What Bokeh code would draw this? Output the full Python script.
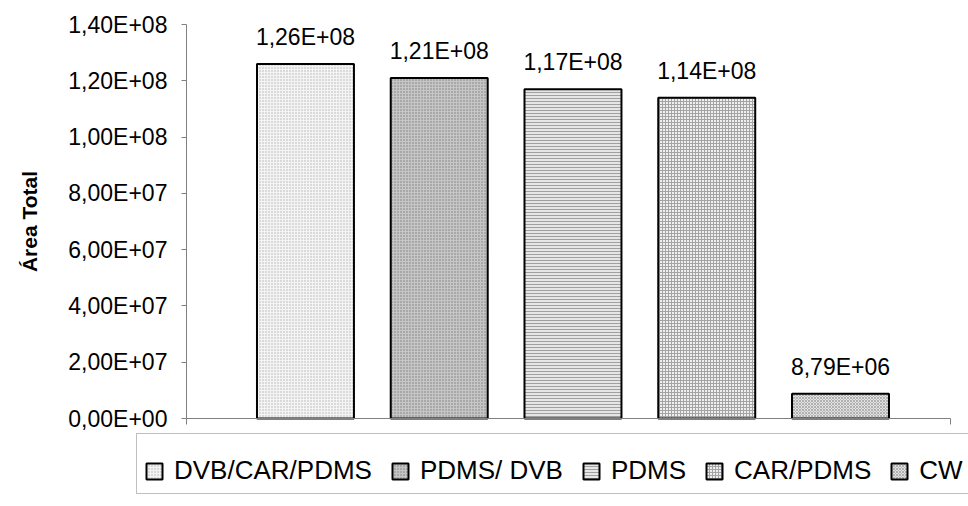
from bokeh.plotting import figure
from bokeh.models import (ColumnDataSource, Range1d, FixedTicker,
                          LabelSet, Legend, LegendItem)
from bokeh.embed import file_html
from bokeh.resources import INLINE
from bokeh.core.properties import value

# ---- data ----
series = ["DVB/CAR/PDMS", "PDMS/ DVB", "PDMS", "CAR/PDMS", "CW"]
areas = [1.26e8, 1.21e8, 1.17e8, 1.14e8, 8.79e6]
y_ticks = [0, 2e7, 4e7, 6e7, 8e7, 1e8, 1.2e8, 1.4e8]
y_title = "Área Total"

# ---- styles ----
fills = ["#f4f4f4", "#c6c6c6", "#e6e6e6", "#efefef", "#e2e2e2"]
hatches = ["dot", "dot", "horizontal_line", "cross", "diagonal_cross"]
hatch_colors = ["#b4b4b4", "#7c7c7c", "#a0a0a0", "#a4a4a4", "#b0b0b0"]
FONT = "Liberation Sans"


def excel_sci(v):
    return f"{v:.2E}".replace(".", ",")


# one slot per series (single-category clustered column chart)
slot = list(range(len(series)))

src = ColumnDataSource(dict(
    slot=slot, series=series, area=areas, label=[excel_sci(v) for v in areas],
    fill=fills, hatch=hatches, hcolor=hatch_colors,
))

# frame covers the whole canvas; axes are pinned inside it
p = figure(
    width=968, height=506,
    x_range=Range1d(-2.280, 4.957), y_range=Range1d(-3.1269e7, 1.48528e8),
    output_backend="svg", toolbar_location=None,
    min_border_left=0, min_border_right=0, min_border_top=0, min_border_bottom=0,
)

r = p.vbar(x="slot", top="area", width=0.725, source=src,
           fill_color="fill", hatch_pattern="hatch", hatch_color="hcolor",
           hatch_scale=3, hatch_weight=1, line_color="black", line_width=2)

labels = LabelSet(x="slot", y="area", text="label", source=src,
                  text_align="center", text_baseline="alphabetic", y_offset=19,
                  text_font=value(FONT), text_font_size="23px", text_color="black")
p.add_layout(labels)

# value axis
Y_AXIS_AT = -0.8897
X_AXIS_END = 4.822
p.yaxis.fixed_location = Y_AXIS_AT
p.yaxis.bounds = (0, 1.4e8)
p.yaxis.ticker = FixedTicker(ticks=y_ticks)
p.yaxis.major_label_overrides = {t: excel_sci(t) for t in y_ticks}
p.yaxis.axis_line_color = "#808080"
p.yaxis.major_tick_line_color = "#808080"
p.yaxis.major_tick_out = 5
p.yaxis.major_tick_in = 0
p.yaxis.minor_tick_line_color = None
p.yaxis.major_label_standoff = 14
p.yaxis.major_label_text_font = FONT
p.yaxis.major_label_text_font_size = "23px"
p.yaxis.major_label_text_color = "black"
p.yaxis.axis_label = y_title
p.yaxis.axis_label_text_font = FONT
p.yaxis.axis_label_text_font_size = "21px"
p.yaxis.axis_label_text_font_style = "bold"
p.yaxis.axis_label_text_color = "black"
p.yaxis.axis_label_standoff = 24

# category axis: a plain line with end tick marks, no labels
p.xaxis.fixed_location = 0
p.xaxis.bounds = (Y_AXIS_AT, X_AXIS_END)
p.xaxis.ticker = FixedTicker(ticks=[Y_AXIS_AT, X_AXIS_END])
p.xaxis.axis_line_color = "#808080"
p.xaxis.major_tick_line_color = "#808080"
p.xaxis.major_tick_out = 6
p.xaxis.major_tick_in = 0
p.xaxis.minor_tick_line_color = None
p.xaxis.major_label_text_color = None
p.xaxis.major_label_text_font_size = "1px"

p.xgrid.visible = False
p.ygrid.visible = False
p.outline_line_color = None

items = [LegendItem(label=s, renderers=[r], index=i) for i, s in enumerate(series)]
legend = Legend(
    items=items, orientation="horizontal", location=(136, 12),
    label_text_font=FONT, label_text_font_size="26px", label_text_color="black",
    glyph_width=20, glyph_height=20, label_standoff=10, spacing=18, padding=7,
    title=" ", title_text_font_size="10px", title_standoff=3,
    border_line_color="#808080", border_line_width=1,
    background_fill_color="white", background_fill_alpha=1.0,
)
p.add_layout(legend, "center")

open("out.html", "w").write(file_html(p, INLINE))
